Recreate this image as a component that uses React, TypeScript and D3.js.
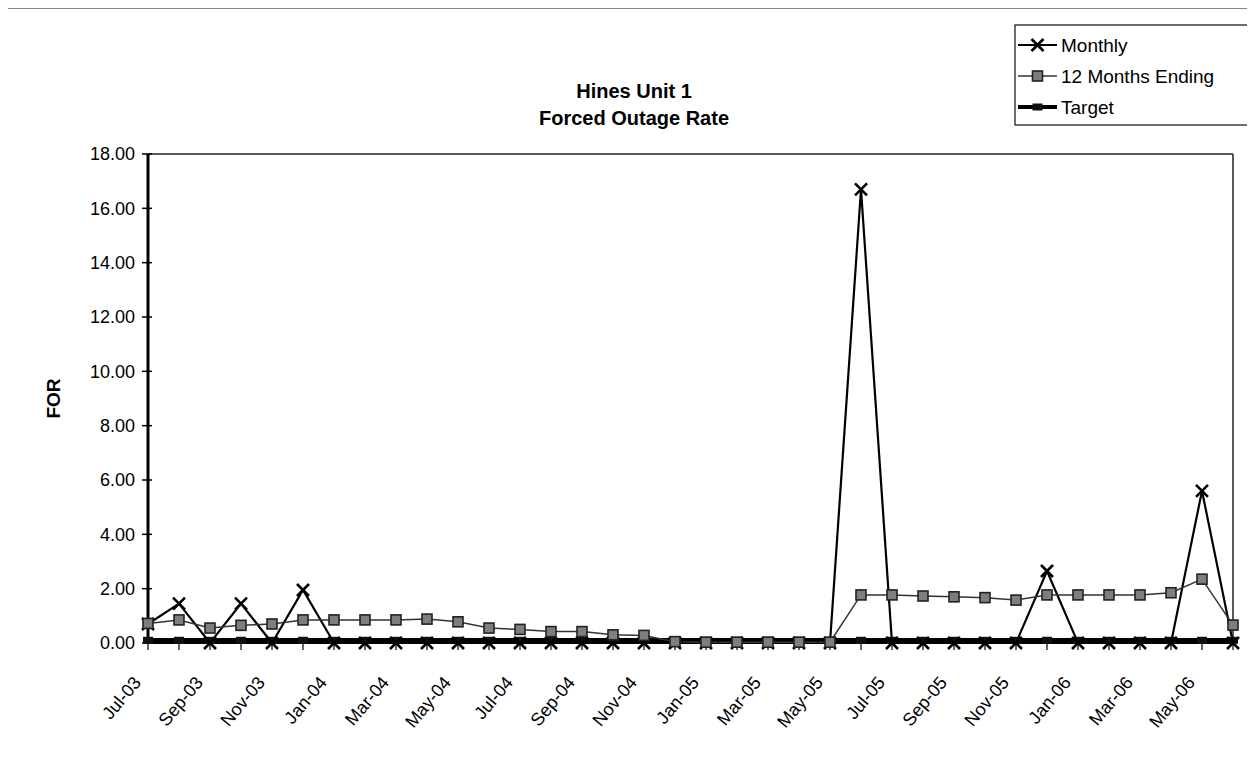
import React from "react";
import * as d3 from "d3";

const months = [
  "Jul-03","Aug-03","Sep-03","Oct-03","Nov-03","Dec-03",
  "Jan-04","Feb-04","Mar-04","Apr-04","May-04","Jun-04",
  "Jul-04","Aug-04","Sep-04","Oct-04","Nov-04","Dec-04",
  "Jan-05","Feb-05","Mar-05","Apr-05","May-05","Jun-05",
  "Jul-05","Aug-05","Sep-05","Oct-05","Nov-05","Dec-05",
  "Jan-06","Feb-06","Mar-06","Apr-06","May-06","Jun-06",
];

const monthly = [
  0.70, 1.45, 0.00, 1.45, 0.00, 1.95,
  0.00, 0.00, 0.00, 0.00, 0.00, 0.00,
  0.00, 0.00, 0.00, 0.00, 0.00, 0.00,
  0.00, 0.00, 0.00, 0.00, 0.00, 16.70,
  0.00, 0.00, 0.00, 0.00, 0.00, 2.65,
  0.00, 0.00, 0.00, 0.00, 5.60, 0.00,
];

const twelveMonthsEnding = [
  0.72, 0.85, 0.55, 0.65, 0.70, 0.85,
  0.85, 0.85, 0.85, 0.88, 0.78, 0.55,
  0.50, 0.42, 0.42, 0.30, 0.28, 0.05,
  0.03, 0.03, 0.03, 0.03, 0.03, 1.77,
  1.77, 1.73, 1.70, 1.67, 1.58, 1.77,
  1.77, 1.77, 1.77, 1.85, 2.35, 0.66,
];

const target = [
  0.10, 0.10, 0.10, 0.10, 0.10, 0.10,
  0.10, 0.10, 0.10, 0.10, 0.10, 0.10,
  0.10, 0.10, 0.10, 0.10, 0.10, 0.10,
  0.10, 0.10, 0.10, 0.10, 0.10, 0.10,
  0.10, 0.10, 0.10, 0.10, 0.10, 0.10,
  0.10, 0.10, 0.10, 0.10, 0.10, 0.10,
];

const yTicks = [0, 2, 4, 6, 8, 10, 12, 14, 16, 18];
const titleLines = ["Hines Unit 1", "Forced Outage Rate"];
const legendItems = ["Monthly", "12 Months Ending", "Target"];

const FONT = "'Liberation Sans', Arial, Helvetica, sans-serif";

const W = 1255;
const H = 760;
const M = { left: 148, right: 1233, top: 154, bottom: 643 };

export default function App() {
  const x = d3
    .scalePoint<string>()
    .domain(months)
    .range([M.left, M.right]);
  const y = d3.scaleLinear().domain([0, 18]).range([M.bottom, M.top]);

  const line = d3
    .line<number>()
    .x((_, i) => x(months[i]) as number)
    .y((d) => y(d));

  const xMark = (cx: number, cy: number, s: number, key: string) => (
    <path
      key={key}
      d={`M${cx - s},${cy - s}L${cx + s},${cy + s}M${cx - s},${cy + s}L${cx + s},${cy - s}`}
      stroke="#000"
      strokeWidth={2.6}
      fill="none"
    />
  );

  const square = (cx: number, cy: number, s: number, key: string) => (
    <rect
      key={key}
      x={cx - s}
      y={cy - s}
      width={2 * s}
      height={2 * s}
      fill="#7e7e7e"
      stroke="#222"
      strokeWidth={1.6}
    />
  );

  const dash = (cx: number, cy: number, key: string) => (
    <rect key={key} x={cx - 5} y={cy - 3.5} width={10} height={7} fill="#111" />
  );

  return (
    <div style={{ margin: "-8px" }}>
      <svg width={W} height={H} style={{ display: "block", background: "#fff" }} fontFamily={FONT}>
        {/* outer chart border */}
        <rect x={5} y={8} width={1248} height={749} fill="none" stroke="#333" strokeWidth={1.2} />

        {/* title */}
        {titleLines.map((t, i) => (
          <text
            key={t}
            x={634}
            y={98 + i * 27}
            textAnchor="middle"
            fontSize={20}
            fontWeight="bold"
            fill="#000"
          >
            {t}
          </text>
        ))}

        {/* plot area border (top/right) */}
        <line x1={M.left} y1={M.top} x2={M.right} y2={M.top} stroke="#222" strokeWidth={1.5} />
        <line x1={M.right} y1={M.top} x2={M.right} y2={M.bottom} stroke="#222" strokeWidth={1.5} />

        {/* y axis */}
        <line x1={M.left} y1={M.top} x2={M.left} y2={M.bottom} stroke="#000" strokeWidth={3} />
        {yTicks.map((t) => (
          <g key={t}>
            <line x1={M.left - 6} x2={M.left + 4} y1={y(t)} y2={y(t)} stroke="#000" strokeWidth={1.5} />
            <text x={135} y={y(t)} dy="0.35em" textAnchor="end" fontSize={18} fill="#000">
              {t.toFixed(2)}
            </text>
          </g>
        ))}
        <text
          transform={`translate(60, ${(M.top + M.bottom) / 2}) rotate(-90)`}
          textAnchor="middle"
          fontSize={19}
          fontWeight="bold"
          fill="#000"
        >
          FOR
        </text>

        {/* x axis */}
        <line x1={M.left} y1={M.bottom} x2={M.right} y2={M.bottom} stroke="#000" strokeWidth={2} />
        {months.map((m) => (
          <line
            key={m}
            x1={x(m) as number}
            x2={x(m) as number}
            y1={M.bottom - 3}
            y2={M.bottom + 7}
            stroke="#000"
            strokeWidth={1.2}
          />
        ))}
        {months.map((m, i) =>
          i % 2 === 0 ? (
            <text
              key={m}
              transform={`translate(${(x(m) as number) - 6}, ${M.bottom + 40}) rotate(-50)`}
              textAnchor="end"
              fontSize={18}
              fill="#000"
            >
              {m}
            </text>
          ) : null
        )}

        {/* Target */}
        <path d={line(target) || ""} fill="none" stroke="#000" strokeWidth={4.5} />
        {target.map((v, i) => dash(x(months[i]) as number, y(v), "td" + i))}

        {/* Monthly */}
        <path d={line(monthly) || ""} fill="none" stroke="#000" strokeWidth={2.2} />
        {monthly.map((v, i) => xMark(x(months[i]) as number, y(v), 6, "mx" + i))}

        {/* 12 Months Ending */}
        <path d={line(twelveMonthsEnding) || ""} fill="none" stroke="#333" strokeWidth={1.5} />
        {twelveMonthsEnding.map((v, i) => square(x(months[i]) as number, y(v), 5, "sq" + i))}

        {/* legend */}
        <rect x={1015} y={25} width={235} height={100} fill="#fff" stroke="#222" strokeWidth={1.3} />
        {legendItems.map((name, i) => {
          const ly = 45 + i * 31;
          return (
            <g key={name}>
              <line
                x1={1018}
                x2={1057}
                y1={ly}
                y2={ly}
                stroke={i === 1 ? "#333" : "#000"}
                strokeWidth={i === 0 ? 2.2 : i === 1 ? 1.3 : 4}
              />
              {i === 0 && xMark(1037.5, ly, 6, "lgx")}
              {i === 1 && square(1037.5, ly, 5, "lgs")}
              {i === 2 && dash(1037.5, ly, "lgd")}
              <text x={1061} y={ly} dy="0.36em" fontSize={19} fill="#000">
                {name}
              </text>
            </g>
          );
        })}
      </svg>
    </div>
  );
}
